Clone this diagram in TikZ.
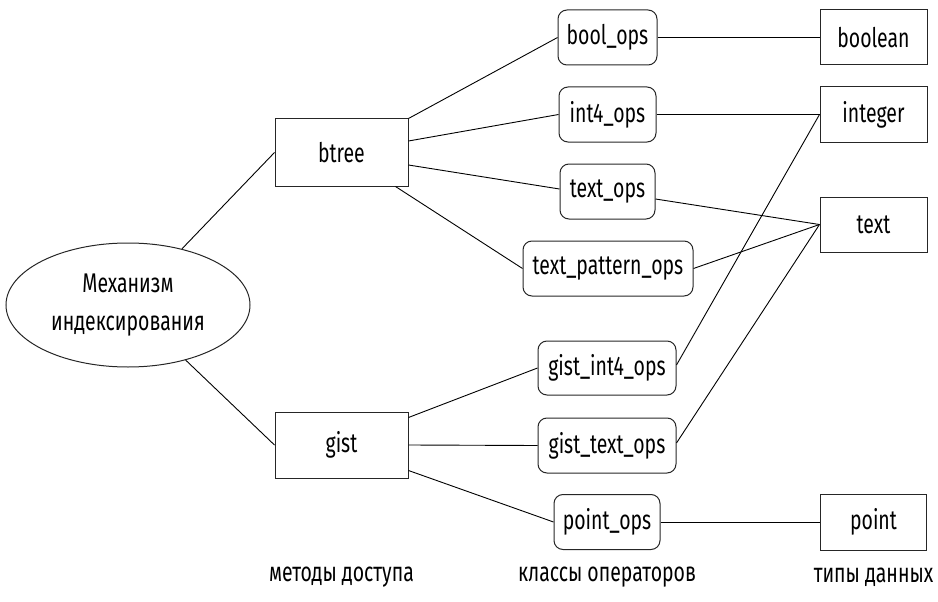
\documentclass[tikz,border=0pt]{standalone}
\usepackage{fontspec}
\setmainfont{Fira Sans}[FakeStretch=0.72]
\usetikzlibrary{shapes.geometric}
\begin{document}
\begin{tikzpicture}[x=1pt,y=-1pt,
  every node/.style={font=\fontsize{27}{38}\selectfont, inner sep=0pt},
  sqbox/.style={draw=black!85, line width=1pt, rectangle},
  opbox/.style={draw=black!85, line width=1pt, rectangle, rounded corners=9pt},
  conn/.style={draw=black, line width=0.9pt},
  lbl/.style={}]
\useasboundingbox (0,0) rectangle (938,602);
\node[draw=black!85, line width=1pt, ellipse, minimum width=244pt, minimum height=124pt, align=center] (ell) at (128,305) {Механизм\\индексирования};
\node[sqbox, minimum width=133pt, minimum height=67pt] (btree) at (341.5,152.5) {btree};
\node[sqbox, minimum width=133pt, minimum height=66pt] (gist) at (341.5,445) {gist};
\node[opbox, minimum width=99pt, minimum height=55pt] (boolops) at (607.5,37.5) {bool\_ops};
\node[opbox, minimum width=97pt, minimum height=55pt] (int4ops) at (607.5,114.5) {int4\_ops};
\node[opbox, minimum width=95pt, minimum height=55pt] (textops) at (607.5,191.5) {text\_ops};
\node[opbox, minimum width=170pt, minimum height=55pt] (tpops) at (608,268.5) {text\_pattern\_ops};
\node[opbox, minimum width=138pt, minimum height=54pt] (gint4) at (607,368) {gist\_int4\_ops};
\node[opbox, minimum width=138pt, minimum height=55pt] (gtext) at (607,445.5) {gist\_text\_ops};
\node[opbox, minimum width=106pt, minimum height=55pt] (pointops) at (607,522) {point\_ops};
\node[sqbox, minimum width=107pt, minimum height=55pt] (boolean) at (873.5,37.5) {boolean};
\node[sqbox, minimum width=107pt, minimum height=55pt] (integer) at (873.5,114.5) {integer};
\node[sqbox, minimum width=107pt, minimum height=55pt] (text) at (873.5,224.5) {text};
\node[sqbox, minimum width=106pt, minimum height=56pt] (point) at (873.5,522) {point};
\node[lbl] (lab1) at (341.5,577) {методы доступа};
\node[lbl] (lab2) at (607,577) {классы операторов};
\node[lbl] (lab3) at (873.5,577) {типы данных};
\draw[conn] (ell) -- (btree.west);
\draw[conn] (ell) -- (gist.west);
\draw[conn] (btree.north east) -- (boolops.west);
\draw[conn] ([yshift=11.5pt]btree.east) -- (int4ops.west);
\draw[conn] ([yshift=-12.5pt]btree.east) -- ([yshift=2.5pt]textops.west);
\draw[conn] ([xshift=-13pt]btree.south east) -- (tpops.west);
\draw[conn] (boolops.east) -- (boolean.west);
\draw[conn] (int4ops.east) -- (integer.west);
\draw[conn] ([yshift=-7.5pt]textops.east) -- (text.west);
\draw[conn] (tpops.east) -- (text.west);
\draw[conn] ([yshift=3pt]gint4.east) -- (integer.west);
\draw[conn] ([yshift=2.5pt]gtext.east) -- (text.west);
\draw[conn] ([yshift=-6pt]gist.north east) -- (gint4.west);
\draw[conn] (gist.east) -- (gtext.west);
\draw[conn] ([yshift=8pt]gist.south east) -- (pointops.west);
\draw[conn] (pointops.east) -- (point.west);
\end{tikzpicture}
\end{document}
